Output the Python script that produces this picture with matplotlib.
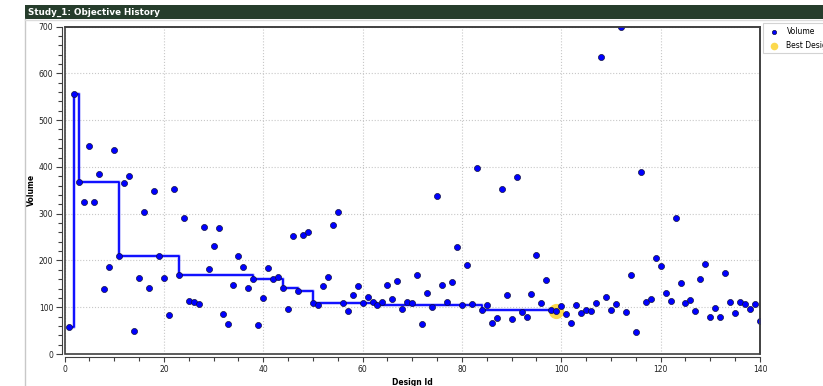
import numpy as np
import matplotlib
matplotlib.use("Agg")
import matplotlib.pyplot as plt
from matplotlib.lines import Line2D
from matplotlib.patches import Rectangle
from matplotlib.ticker import MultipleLocator

# =========================
# data
# =========================
design_id = list(range(1, 141))
volume = [
    58, 556, 367, 324, 445, 325, 384, 138, 186, 437,
    210, 365, 380, 50, 163, 303, 142, 348, 209, 163,
    84, 353, 169, 290, 114, 111, 107, 271, 181, 230,
    270, 85, 64, 148, 209, 186, 142, 160, 63, 120,
    184, 160, 164, 142, 97, 253, 134, 255, 260, 108,
    105, 145, 164, 276, 304, 108, 91, 126, 146, 108,
    121, 111, 104, 111, 147, 117, 155, 96, 111, 108,
    168, 64, 131, 101, 338, 148, 112, 153, 228, 104,
    191, 107, 398, 95, 105, 67, 77, 352, 126, 74,
    378, 90, 79, 129, 212, 110, 158, 93, 92, 102,
    86, 67, 105, 88, 94, 91, 108, 635, 121, 93,
    106, 699, 90, 168, 47, 388, 111, 118, 206, 189,
    131, 114, 290, 152, 110, 116, 91, 160, 193, 80,
    99, 79, 173, 111, 88, 111, 106, 96, 106, 71,
]

# designs on the history line (best so far)
best_ids = [1, 2, 3, 11, 23, 38, 44, 47, 50, 63, 84, 98, 99]
best_design = 99

best_vals = [volume[i - 1] for i in best_ids]

# =========================
# figure
# =========================
fig = plt.figure(figsize=(8.23, 3.86), dpi=100)
plt.rcParams["font.family"] = ["DejaVu Sans"]

# panel header + border
fig.add_artist(Rectangle((25 / 823, 1 - 19 / 386), 1, 14 / 386,
                         transform=fig.transFigure, color="#263d2c", lw=0))
fig.text(28 / 823, 1 - 12 / 386, "Study_1: Objective History", color="white",
         fontsize=6.3, fontweight="bold", va="center", ha="left")
fig.add_artist(Line2D([25 / 823, 25 / 823], [0, 1 - 19 / 386],
                      transform=fig.transFigure, color="#c8c8c8", lw=1))
fig.add_artist(Line2D([25 / 823, 1], [1 - 20 / 386, 1 - 20 / 386],
                      transform=fig.transFigure, color="#dcdcdc", lw=1))

ax = fig.add_axes([64.5 / 823, 1 - 354 / 386, 695.5 / 823, 327.5 / 386])

ax.step(best_ids, best_vals, where="post", color="#7070ff", lw=2.6, alpha=0.45, zorder=2)
ax.step(best_ids, best_vals, where="post", color="#0000ff", lw=1.3, zorder=3)

ax.scatter([best_design], [volume[best_design - 1]], s=120, color="#fcd53a",
           alpha=0.9, lw=0, zorder=4, label="Best Design")
ax.scatter(design_id, volume, s=19, color="#0000ff", edgecolors="#101040",
           linewidths=0.5, zorder=5, label="Volume")

ax.set_xlim(0, 140)
ax.set_ylim(0, 700)
ax.xaxis.set_major_locator(MultipleLocator(20))
ax.xaxis.set_minor_locator(MultipleLocator(5))
ax.yaxis.set_major_locator(MultipleLocator(100))
ax.yaxis.set_minor_locator(MultipleLocator(20))
ax.grid(True, which="major", color="#c8c8c8", ls=":", lw=0.8)
ax.set_axisbelow(True)

for s in ["top", "right"]:
    ax.spines[s].set_color("#404040")
    ax.spines[s].set_linewidth(1.2)
ax.spines["left"].set_position(("outward", 2))
ax.spines["bottom"].set_position(("outward", 2.5))
ax.spines["left"].set_color("#404040")
ax.spines["bottom"].set_color("#404040")
# frame round the plot area
ax.add_patch(Rectangle((0, 0), 1, 1, transform=ax.transAxes, fill=False,
                       edgecolor="#404040", lw=1.2, clip_on=False, zorder=6))

ax.tick_params(axis="both", which="major", labelsize=5.5, colors="#404040",
               labelcolor="#202020", width=0.8)
ax.tick_params(axis="y", which="major", length=4.5, pad=1.5)
ax.tick_params(axis="y", which="minor", length=3, width=0.8, colors="#404040")
ax.tick_params(axis="x", which="major", length=3.5, pad=2)
ax.tick_params(axis="x", which="minor", length=3, width=0.8, colors="#404040")

ax.set_xlabel("Design Id", fontsize=5.5, fontweight="bold")
ax.xaxis.set_label_coords(0.5, -0.072)
ax.set_ylabel("Volume", fontsize=5.5, fontweight="bold")
ax.yaxis.set_label_coords(-0.041, 0.5)

h, l = ax.get_legend_handles_labels()
leg = ax.legend(h[::-1], l[::-1], loc="upper left", bbox_to_anchor=(1.004, 1.01),
                fontsize=5.5, frameon=True, fancybox=False, edgecolor="#c8c8c8",
                borderpad=0.5, handletextpad=0.6, handlelength=2.0,
                labelspacing=0.6, markerscale=0.7, borderaxespad=0)
leg.get_frame().set_linewidth(0.8)
leg.legend_handles[1].set_sizes([30])

plt.savefig("out.png", dpi=100)
